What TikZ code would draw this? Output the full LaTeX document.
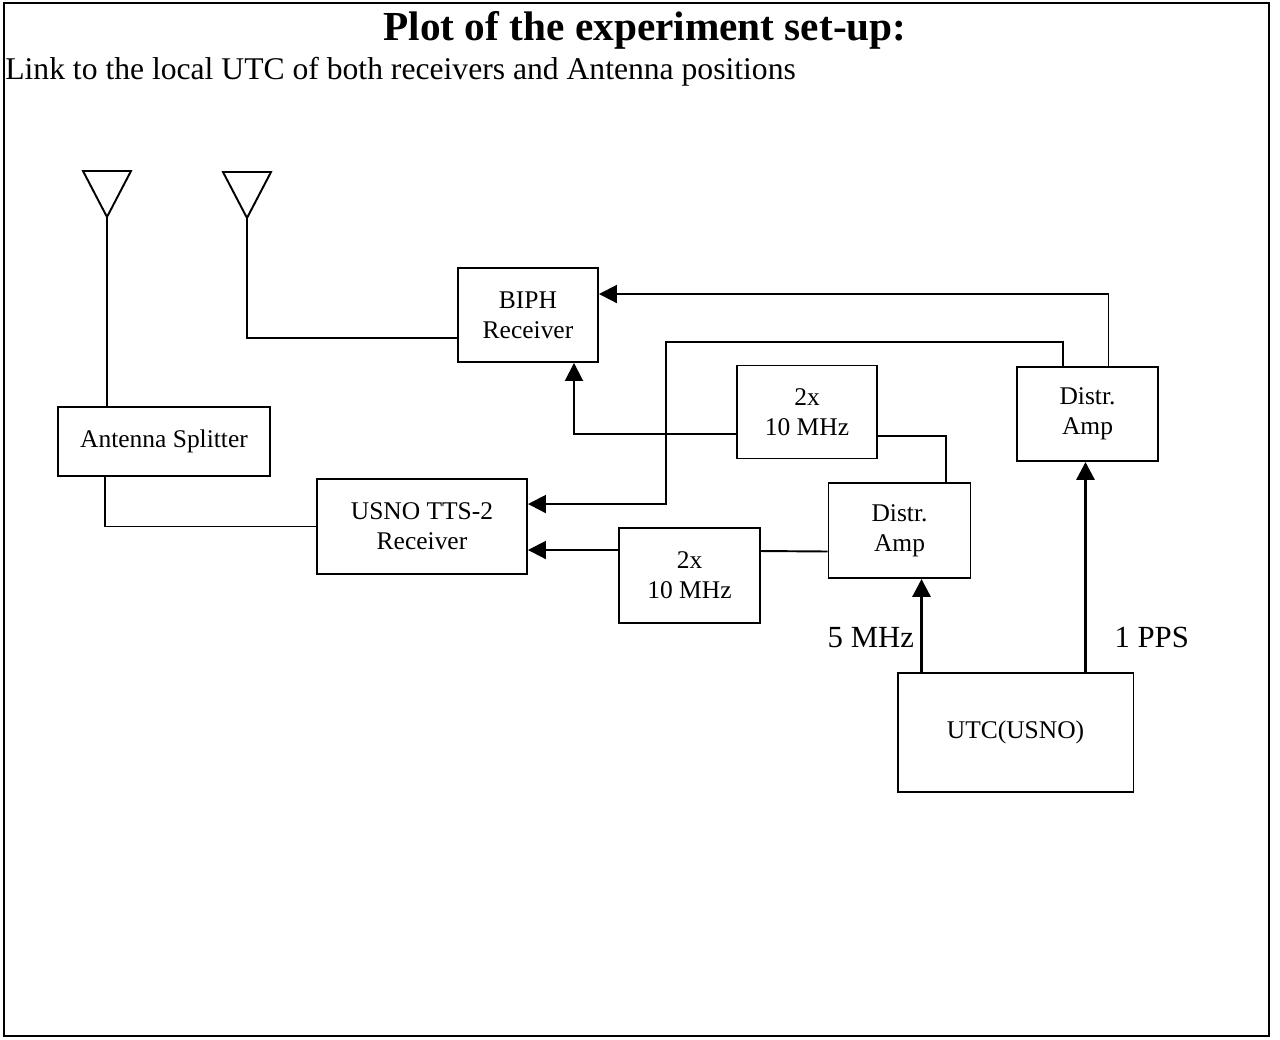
\documentclass[tikz,border=0pt]{standalone}
\usepackage{fontspec}
\setmainfont{Liberation Serif}
\usetikzlibrary{arrows.meta,positioning}
\tikzset{
  box/.style={draw, line width=1.1pt, align=center, inner sep=0pt, font=\fontsize{14.5}{17}\selectfont},
  wire/.style={line width=1.1pt},
  arrow/.style={wire, -{Triangle[length=3.6mm, width=3.6mm]}},
  feed/.style={arrow, line width=1.8pt},
  lbl/.style={font=\fontsize{17.5}{20}\selectfont, inner sep=0pt},
  antenna/.style={line width=1.1pt}
}

\begin{document}
\begin{tikzpicture}[x=0.02cm, y=-0.02cm]
\useasboundingbox (0,0) rectangle (1280,1039);
\draw[line width=1pt] (4,3) rectangle (1269,1036);

\node[anchor=base, inner sep=0pt, font=\fontsize{23.5}{26}\selectfont\bfseries] (title) at (645,40) {Plot of the experiment set-up:};
\node[anchor=base west, inner sep=0pt, font=\fontsize{18}{21}\selectfont] (subtitle) at (5,79) {Link to the local UTC of both receivers and Antenna positions};

% antennas
\coordinate (ant1) at (107,217);
\coordinate (ant2) at (247,218);
\draw[antenna] (ant1) -- ++(-24,-46) -- ++(48,0) -- cycle;
\draw[antenna] (ant2) -- ++(-24,-46) -- ++(48,0) -- cycle;

% boxes
\node[box, minimum width=2.8cm, minimum height=1.88cm] (biph) at (528,315) {BIPH\\Receiver};
\node[box, minimum width=4.24cm, minimum height=1.38cm] (splitter) at (164,441.5) {Antenna Splitter};
\node[box, minimum width=4.2cm, minimum height=1.9cm] (usno) at (422,526.5) {USNO TTS-2\\Receiver};
\node[box, minimum width=2.8cm, minimum height=1.86cm] (tenup) at (807,412) {2x\\10 MHz};
\node[box, minimum width=2.82cm, minimum height=1.9cm] (tenlo) at (689.5,575.5) {2x\\10 MHz};
\node[box, minimum width=2.84cm, minimum height=1.9cm] (amplo) at (899.5,530.5) {Distr.\\Amp};
\node[box, minimum width=2.82cm, minimum height=1.88cm] (ampup) at (1087.5,414) {Distr.\\Amp};
\node[box, minimum width=4.72cm, minimum height=2.38cm] (utc) at (1015.5,732.5) {UTC(USNO)};

% antenna cables
\draw[wire] (ant1) -- (ant1 |- splitter.north);
\draw[wire] (ant2) |- ([yshift=-0.46cm]biph.west);
\draw[wire] ([xshift=-1.18cm]splitter.south) |- (usno.west);

% reference signals
\coordinate (bend) at (666,342);
\coordinate (mhzfoot) at ([xshift=-1.88cm]utc.north);
\coordinate (ppsfoot) at ([xshift=1.4cm]utc.north);
\draw[arrow] ([xshift=0.42cm]ampup.north) |- ([yshift=0.42cm]biph.east);
\draw[arrow] ([xshift=-0.49cm]ampup.north) |- (bend) |- ([yshift=0.45cm]usno.east);
\draw[arrow] ([yshift=-0.44cm]tenup.west) -| ([xshift=0.92cm]biph.south);
\draw[wire] ([xshift=0.93cm]amplo.north) |- ([yshift=-0.48cm]tenup.east);
\draw[wire] ([yshift=-0.42cm]amplo.west) -- ([yshift=0.49cm]tenlo.east);
\draw[arrow] ([yshift=0.51cm]tenlo.west) -- ([yshift=-0.47cm]usno.east);
\draw[feed] (mhzfoot) -- (mhzfoot |- amplo.south)
  node[lbl, anchor=east, pos=0.37, xshift=-0.12cm] (fivemhz) {5 MHz};
\draw[feed] (ppsfoot) -- (ppsfoot |- ampup.south)
  node[lbl, anchor=west, pos=0.165, xshift=0.55cm] (pps) {1 PPS};
\end{tikzpicture}
\end{document}
